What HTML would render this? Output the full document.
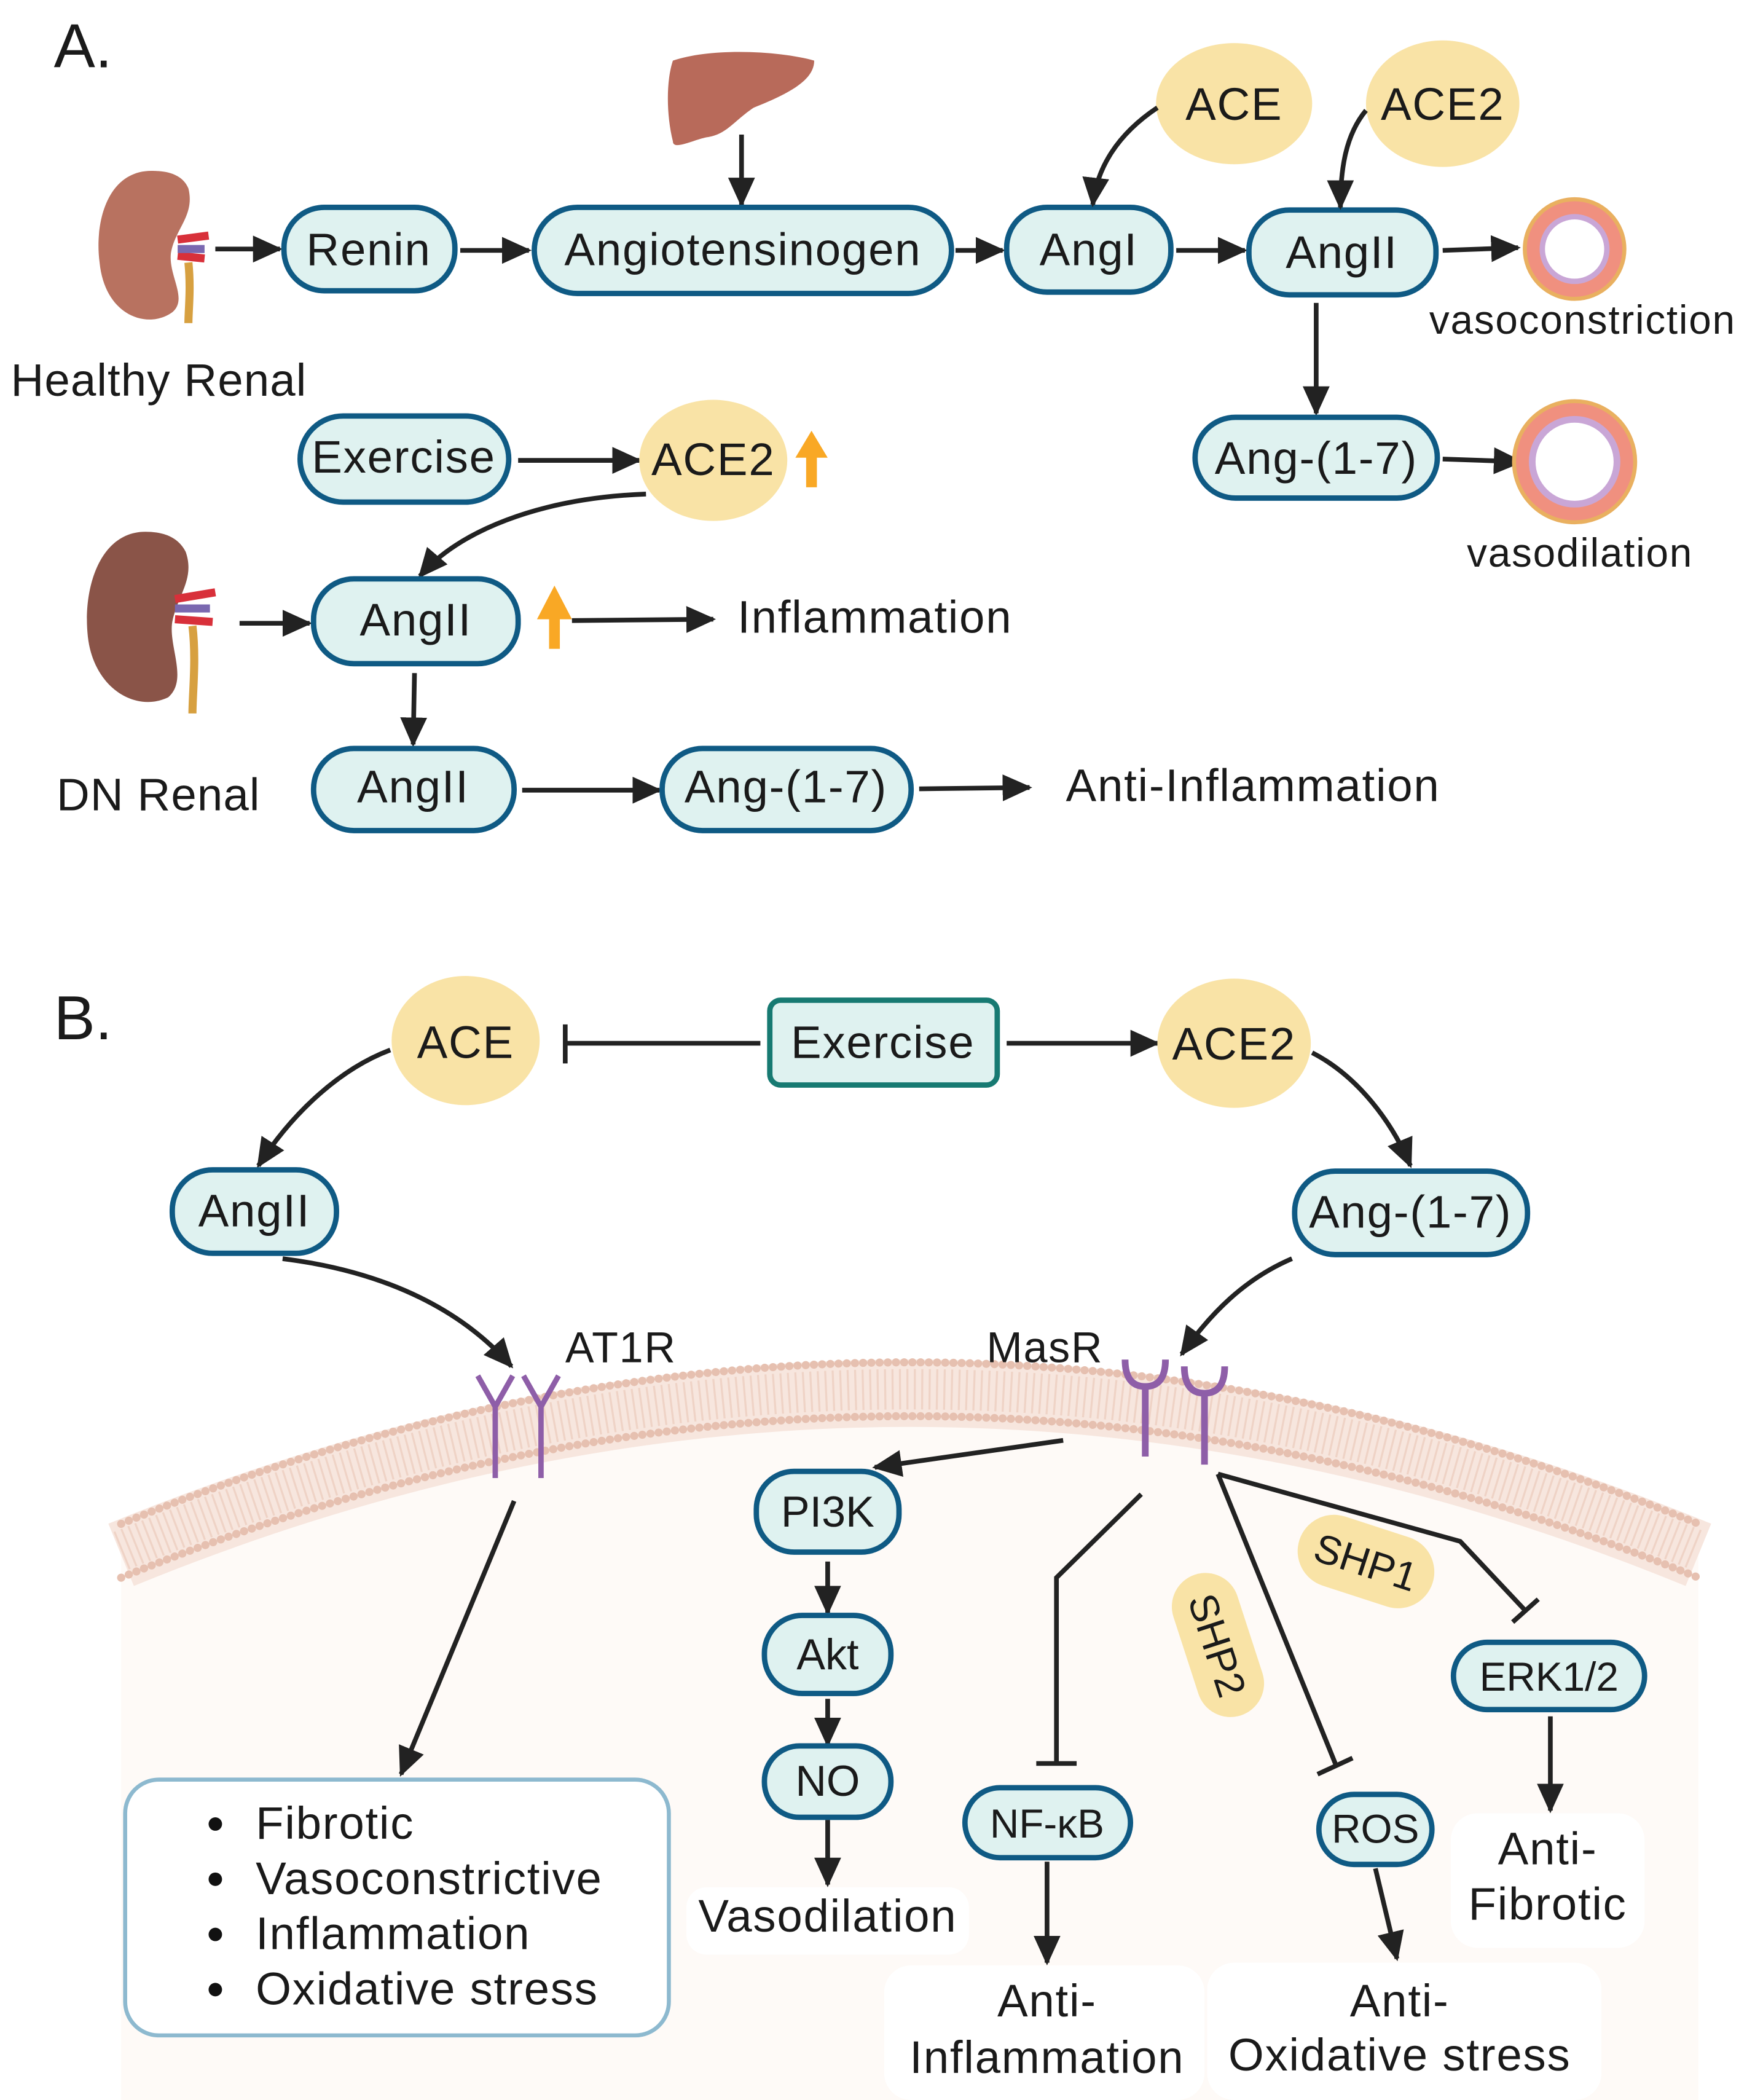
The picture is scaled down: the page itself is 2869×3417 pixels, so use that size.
<!DOCTYPE html>
<html><head><meta charset="utf-8"><style>
html,body{margin:0;padding:0;background:#fff}
svg{display:block}
text{font-family:"Liberation Sans",Arial,sans-serif;fill:#1a1a1a}
</style></head><body>
<svg width="2869" height="3417" viewBox="0 0 1310 1560" preserveAspectRatio="none" xmlns="http://www.w3.org/2000/svg">
<defs>
<marker id="ah" markerUnits="userSpaceOnUse" markerWidth="24" markerHeight="24" refX="20" refY="10" orient="auto">
<path d="M0,0 L22,10 L0,20 Z" fill="#222"/></marker>
</defs>
<style>
.bx{fill:#dff2f0;stroke:#0f5a84;stroke-width:4}
.ln{stroke:#222;stroke-width:3.5;fill:none}
.t34{font-size:34px;letter-spacing:0.8px}
.el{fill:#f9e3a6}
</style>

<!-- ===== A ===== -->
<text x="40" y="50" font-size="46">A.</text>
<path d="M115,127 C80,125 70,165 74,195 C78,235 110,245 128,232 C140,222 125,205 127,188 C130,170 145,160 140,140 C136,130 125,127 115,127 Z" fill="#b87260"/>
<path d="M132,178 L155,175 M132,190 L152,192" stroke="#d8303a" stroke-width="6"/>
<path d="M132,185 L152,185" stroke="#7a68b0" stroke-width="6"/>
<path d="M140,195 C142,215 140,230 140,240" stroke="#d7a040" stroke-width="6" fill="none"/>
<text x="8" y="294" class="t34" style="letter-spacing:0.5px">Healthy Renal</text>
<line class="ln" x1="160" y1="185" x2="208" y2="185" marker-end="url(#ah)"/>
<rect class="bx" x="211" y="154" width="127" height="62" rx="30"/>
<text x="274" y="197" class="t34" text-anchor="middle">Renin</text>
<line class="ln" x1="342" y1="186" x2="393" y2="186" marker-end="url(#ah)"/>
<path d="M500,45 C530,35 580,38 605,45 C605,60 585,70 560,80 C545,90 540,100 525,102 C515,104 500,112 500,105 C495,85 495,60 500,45 Z" fill="#b86a5a"/>
<line class="ln" x1="551" y1="100" x2="551" y2="152" marker-end="url(#ah)"/>
<rect class="bx" x="397" y="154" width="310" height="64" rx="32"/>
<text x="552" y="197" class="t34" text-anchor="middle">Angiotensinogen</text>
<line class="ln" x1="710" y1="186" x2="745" y2="186" marker-end="url(#ah)"/>
<rect class="bx" x="748" y="154" width="122" height="63" rx="30"/>
<text x="809" y="197" class="t34" text-anchor="middle">AngI</text>
<line class="ln" x1="874" y1="186" x2="925" y2="186" marker-end="url(#ah)"/>
<rect class="bx" x="928" y="156" width="139" height="63" rx="30"/>
<text x="997" y="199" class="t34" text-anchor="middle">AngII</text>
<ellipse class="el" cx="917" cy="77" rx="58" ry="45"/>
<text x="917" y="89" class="t34" text-anchor="middle">ACE</text>
<ellipse class="el" cx="1072" cy="77" rx="57" ry="47"/>
<text x="1072" y="89" class="t34" text-anchor="middle">ACE2</text>
<path class="ln" d="M860,80 C830,100 815,125 812,152" marker-end="url(#ah)"/>
<path class="ln" d="M1015,82 C1000,100 996,125 996,154" marker-end="url(#ah)"/>
<line class="ln" x1="1072" y1="186" x2="1128" y2="184" marker-end="url(#ah)"/>
<g><circle cx="1170" cy="185" r="37" fill="#f0907f" stroke="#e9b060" stroke-width="3"/><circle cx="1170" cy="185" r="26" fill="#c9a6d6"/><circle cx="1170" cy="185" r="22" fill="#fff"/></g>
<text x="1062" y="248" font-size="30" letter-spacing="0.8">vasoconstriction</text>
<line class="ln" x1="978" y1="225" x2="978" y2="307" marker-end="url(#ah)"/>
<rect class="bx" x="888" y="310" width="180" height="60" rx="30"/>
<text x="978" y="352" class="t34" text-anchor="middle">Ang-(1-7)</text>
<line class="ln" x1="1072" y1="341" x2="1130" y2="343" marker-end="url(#ah)"/>
<g><circle cx="1170" cy="343" r="45" fill="#f0907f" stroke="#e9b060" stroke-width="3"/><circle cx="1170" cy="343" r="34" fill="#c9a6d6"/><circle cx="1170" cy="343" r="29" fill="#fff"/></g>
<text x="1090" y="421" font-size="30" letter-spacing="0.8">vasodilation</text>

<rect class="bx" x="223" y="309" width="155" height="64" rx="32"/>
<text x="300" y="351" class="t34" text-anchor="middle">Exercise</text>
<line class="ln" x1="385" y1="342" x2="475" y2="342" marker-end="url(#ah)"/>
<ellipse class="el" cx="530" cy="342" rx="55" ry="45"/>
<text x="530" y="353" class="t34" text-anchor="middle">ACE2</text>
<path d="M603,320 L615,340 L607,340 L607,362 L599,362 L599,340 L591,340 Z" fill="#f9a825"/>
<path class="ln" d="M480,367 C400,370 340,395 312,428" marker-end="url(#ah)"/>
<path d="M108,395 C75,395 62,435 65,470 C68,510 100,530 125,518 C140,505 125,480 128,462 C132,442 145,430 138,410 C132,398 120,395 108,395 Z" fill="#8a5448"/>
<path d="M130,445 L160,440 M130,460 L158,462" stroke="#d8303a" stroke-width="6"/>
<path d="M130,452 L156,452" stroke="#7a68b0" stroke-width="6"/>
<path d="M143,465 C146,490 143,515 143,530" stroke="#d7a040" stroke-width="6" fill="none"/>
<text x="42" y="602" class="t34" style="letter-spacing:0.5px">DN Renal</text>
<line class="ln" x1="178" y1="463" x2="230" y2="463" marker-end="url(#ah)"/>
<rect class="bx" x="233" y="430" width="152" height="63" rx="30"/>
<text x="309" y="472" class="t34" text-anchor="middle">AngII</text>
<path d="M412,435 L425,460 L416,460 L416,482 L408,482 L408,460 L399,460 Z" fill="#f9a825"/>
<line class="ln" x1="425" y1="461" x2="530" y2="460" marker-end="url(#ah)"/>
<text x="548" y="470" class="t34">Inflammation</text>
<line class="ln" x1="308" y1="500" x2="307" y2="553" marker-end="url(#ah)"/>
<rect class="bx" x="233" y="556" width="149" height="61" rx="30"/>
<text x="307" y="596" class="t34" text-anchor="middle">AngII</text>
<line class="ln" x1="388" y1="587" x2="490" y2="587" marker-end="url(#ah)"/>
<rect class="bx" x="492" y="556" width="185" height="61" rx="30"/>
<text x="584" y="596" class="t34" text-anchor="middle">Ang-(1-7)</text>
<line class="ln" x1="683" y1="586" x2="765" y2="585" marker-end="url(#ah)"/>
<text x="792" y="595" class="t34">Anti-Inflammation</text>

<!-- ===== B ===== -->
<text x="40" y="772" font-size="46">B.</text>
<path d="M90,1130 Q676,890 1262,1130 L1262,1560 L90,1560 Z" fill="#fefaf7"/>
<path d="M90,1130 Q676,890 1262,1130" fill="none" stroke="#f7e6de" stroke-width="50" transform="translate(0,25)"/>
<path d="M90,1132 Q676,892 1262,1132" fill="none" stroke="#e6c0b0" stroke-width="6" stroke-dasharray="0.1 6" stroke-linecap="round"/>
<path d="M90,1172 Q676,932 1262,1172" fill="none" stroke="#e6c0b0" stroke-width="6" stroke-dasharray="0.1 6" stroke-linecap="round"/>
<path d="M90,1152 Q676,912 1262,1152" fill="none" stroke="#efd3c6" stroke-width="30" stroke-dasharray="1.5 4"/>

<ellipse class="el" cx="346" cy="773" rx="55" ry="48"/>
<text x="346" y="786" class="t34" text-anchor="middle">ACE</text>
<rect x="572" y="743" width="169" height="63" rx="8" fill="#dff2f0" stroke="#177a72" stroke-width="4"/>
<text x="656" y="786" class="t34" text-anchor="middle">Exercise</text>
<line class="ln" x1="565" y1="775" x2="420" y2="775"/>
<line class="ln" x1="420" y1="761" x2="420" y2="790"/>
<line class="ln" x1="748" y1="775" x2="860" y2="775" marker-end="url(#ah)"/>
<ellipse class="el" cx="917" cy="775" rx="57" ry="48"/>
<text x="917" y="787" class="t34" text-anchor="middle">ACE2</text>
<path class="ln" d="M290,780 C250,795 215,830 192,866" marker-end="url(#ah)"/>
<path class="ln" d="M975,782 C1010,800 1035,835 1048,866" marker-end="url(#ah)"/>
<rect class="bx" x="128" y="869" width="122" height="62" rx="30"/>
<text x="189" y="911" class="t34" text-anchor="middle">AngII</text>
<rect class="bx" x="962" y="870" width="173" height="62" rx="30"/>
<text x="1048" y="912" class="t34" text-anchor="middle">Ang-(1-7)</text>
<path class="ln" d="M210,935 C290,945 345,975 380,1015" marker-end="url(#ah)"/>
<path class="ln" d="M960,935 C925,950 900,975 878,1006" marker-end="url(#ah)"/>
<text x="420" y="1012" font-size="32" letter-spacing="0.8">AT1R</text>
<text x="733" y="1012" font-size="32" letter-spacing="0.8">MasR</text>
<g stroke="#8e5ea8" stroke-width="4" fill="none">
<path d="M355,1022 L368,1045 L381,1022 M368,1045 L368,1098"/>
<path d="M389,1022 L402,1045 L415,1022 M402,1045 L402,1098"/>
<path d="M836,1010 Q836,1030 851,1030 Q866,1030 866,1010 M851,1030 L851,1082" stroke-width="5"/>
<path d="M880,1015 Q880,1035 895,1035 Q910,1035 910,1015 M895,1035 L895,1088" stroke-width="5"/>
</g>
<line class="ln" x1="382" y1="1115" x2="298" y2="1318" marker-end="url(#ah)"/>
<rect x="93" y="1322" width="404" height="190" rx="25" fill="#fff" stroke="#8db9cf" stroke-width="3"/>
<circle cx="160" cy="1355" r="5" fill="#111"/><text x="190" y="1366" class="t34">Fibrotic</text>
<circle cx="160" cy="1396" r="5" fill="#111"/><text x="190" y="1407" class="t34">Vasoconstrictive</text>
<circle cx="160" cy="1437" r="5" fill="#111"/><text x="190" y="1448" class="t34">Inflammation</text>
<circle cx="160" cy="1478" r="5" fill="#111"/><text x="190" y="1489" class="t34">Oxidative stress</text>
<line class="ln" x1="790" y1="1070" x2="650" y2="1090" marker-end="url(#ah)"/>
<rect class="bx" x="562" y="1093" width="106" height="60" rx="28"/>
<text x="615" y="1134" font-size="32" text-anchor="middle">PI3K</text>
<line class="ln" x1="615" y1="1160" x2="615" y2="1198" marker-end="url(#ah)"/>
<rect class="bx" x="568" y="1200" width="94" height="58" rx="28"/>
<text x="615" y="1240" font-size="32" text-anchor="middle">Akt</text>
<line class="ln" x1="615" y1="1262" x2="615" y2="1296" marker-end="url(#ah)"/>
<rect class="bx" x="568" y="1297" width="94" height="53" rx="26"/>
<text x="615" y="1334" font-size="32" text-anchor="middle">NO</text>
<line class="ln" x1="615" y1="1352" x2="615" y2="1400" marker-end="url(#ah)"/>
<rect x="510" y="1402" width="210" height="50" rx="15" fill="#fff"/>
<text x="615" y="1435" class="t34" text-anchor="middle">Vasodilation</text>
<path class="ln" d="M848,1110 L785,1172 L785,1310"/>
<line class="ln" x1="770" y1="1310" x2="800" y2="1310"/>
<rect class="bx" x="717" y="1328" width="123" height="52" rx="26"/>
<text x="778" y="1365" font-size="30" text-anchor="middle">NF-κB</text>
<line class="ln" x1="778" y1="1383" x2="778" y2="1458" marker-end="url(#ah)"/>
<rect x="657" y="1460" width="238" height="100" rx="20" fill="#fff"/>
<text x="778" y="1498" class="t34" text-anchor="middle">Anti-</text>
<text x="778" y="1540" class="t34" text-anchor="middle">Inflammation</text>
<g transform="translate(905,1222) rotate(72)"><rect x="-55" y="-25" width="110" height="50" rx="25" class="el"/><text x="0" y="11" font-size="30" text-anchor="middle">SHP2</text></g>
<line class="ln" x1="905" y1="1095" x2="993" y2="1312"/>
<line class="ln" x1="979" y1="1318" x2="1005" y2="1306"/>
<rect class="bx" x="980" y="1333" width="84" height="52" rx="26"/>
<text x="1022" y="1369" font-size="30" text-anchor="middle">ROS</text>
<line class="ln" x1="1022" y1="1388" x2="1038" y2="1455" marker-end="url(#ah)"/>
<rect x="897" y="1458" width="293" height="102" rx="20" fill="#fff"/>
<text x="1040" y="1498" class="t34" text-anchor="middle">Anti-</text>
<text x="1040" y="1538" class="t34" text-anchor="middle">Oxidative stress</text>
<path class="ln" d="M905,1095 L1085,1145 L1133,1196"/>
<line class="ln" x1="1124" y1="1205" x2="1143" y2="1188"/>
<g transform="translate(1015,1160) rotate(18)"><rect x="-52" y="-27" width="104" height="54" rx="27" class="el"/><text x="0" y="11" font-size="30" text-anchor="middle">SHP1</text></g>
<rect class="bx" x="1080" y="1220" width="142" height="50" rx="25"/>
<text x="1151" y="1256" font-size="30" text-anchor="middle">ERK1/2</text>
<line class="ln" x1="1152" y1="1275" x2="1152" y2="1345" marker-end="url(#ah)"/>
<rect x="1078" y="1347" width="144" height="100" rx="20" fill="#fff"/>
<text x="1150" y="1385" class="t34" text-anchor="middle">Anti-</text>
<text x="1150" y="1426" class="t34" text-anchor="middle">Fibrotic</text>
</svg>
</body></html>
